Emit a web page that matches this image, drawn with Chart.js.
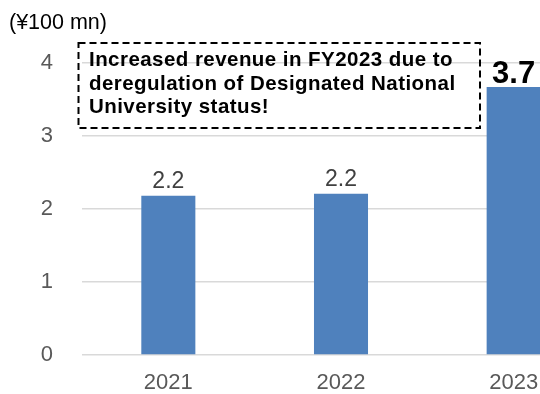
<!DOCTYPE html>
<html>
<head>
<meta charset="utf-8">
<script src="https://cdn.jsdelivr.net/npm/chart.js@4/dist/chart.umd.min.js"></script>
<style>
  html, body { margin: 0; padding: 0; background: #fff; overflow: hidden; }
  #wrap { position: relative; width: 600px; height: 394px; }
</style>
</head>
<body>
<div id="wrap"><canvas id="c" width="600" height="394"></canvas></div>
<script>
const years = ['2021', '2022', '2023'];
const revenue = [2.18, 2.21, 3.67];
const yTicks = [0, 1, 2, 3, 4];
const unitLabel = '(¥100 mn)';
const noteLines = [
  'Increased revenue in FY2023 due to',
  'deregulation of Designated National',
  'University status!'
];

const FONT = "'Liberation Sans', Arial, sans-serif";

// Unit caption and the dashed note box
const extras = {
  id: 'extras',
  afterDraw(chart) {
    const ctx = chart.ctx;
    ctx.save();
    ctx.fillStyle = '#000';
    ctx.font = '21.5px ' + FONT;
    ctx.textBaseline = 'alphabetic';
    ctx.textAlign = 'left';
    ctx.fillText(unitLabel, 9, 29);

    ctx.strokeStyle = '#000';
    ctx.lineWidth = 2;
    ctx.setLineDash([7, 4]);
    ctx.strokeRect(78.5, 43, 401.5, 85);
    ctx.setLineDash([]);
    ctx.fillStyle = '#000';
    ctx.font = 'bold 20.5px ' + FONT;
    if ('letterSpacing' in ctx) ctx.letterSpacing = '0.45px';
    noteLines.forEach((t, i) => ctx.fillText(t, 89, 65.7 + i * 23.8));
    ctx.restore();
  }
};

// Value labels above bars
const valueLabels = {
  id: 'valueLabels',
  afterDatasetsDraw(chart) {
    const ctx = chart.ctx;
    const meta = chart.getDatasetMeta(0);
    ctx.save();
    ctx.textAlign = 'center';
    ctx.textBaseline = 'alphabetic';
    meta.data.forEach((bar, i) => {
      const last = i === revenue.length - 1;
      ctx.fillStyle = last ? '#000' : '#404040';
      ctx.font = (last ? 'bold 31px ' : '23px ') + FONT;
      ctx.fillText(revenue[i].toFixed(1), bar.x, bar.y - (last ? 4.5 : 7.5));
    });
    ctx.restore();
  }
};

new Chart(document.getElementById('c'), {
  type: 'bar',
  data: {
    labels: years,
    datasets: [{
      data: revenue,
      backgroundColor: '#4f81bd',
      barPercentage: 0.313,
      categoryPercentage: 1.0
    }]
  },
  options: {
    responsive: false,
    animation: false,
    events: [],
    layout: { padding: { top: 63, right: 0, left: 0, bottom: 0 } },
    plugins: { legend: { display: false }, tooltip: { enabled: false } },
    scales: {
      x: {
        grid: { display: false, drawTicks: false },
        border: { display: false },
        ticks: { color: '#595959', font: { family: FONT, size: 22, lineHeight: 1 }, padding: 17 },
        afterFit(s) { s.height = 39; }
      },
      y: {
        min: 0, max: 4,
        afterBuildTicks(s) { s.ticks = yTicks.map(v => ({ value: v })); },
        grid: { color: '#d9d9d9', lineWidth: 1.5, drawTicks: false },
        border: { display: false },
        ticks: { color: '#595959', font: { family: FONT, size: 22 }, padding: 29 },
        afterFit(s) {
          s.width = 82;
          // keep the label gap from pushing the plot area inward
          s.paddingTop = 0;
          s.paddingBottom = 0;
        }
      }
    }
  },
  plugins: [valueLabels, extras]
});
</script>
</body>
</html>
